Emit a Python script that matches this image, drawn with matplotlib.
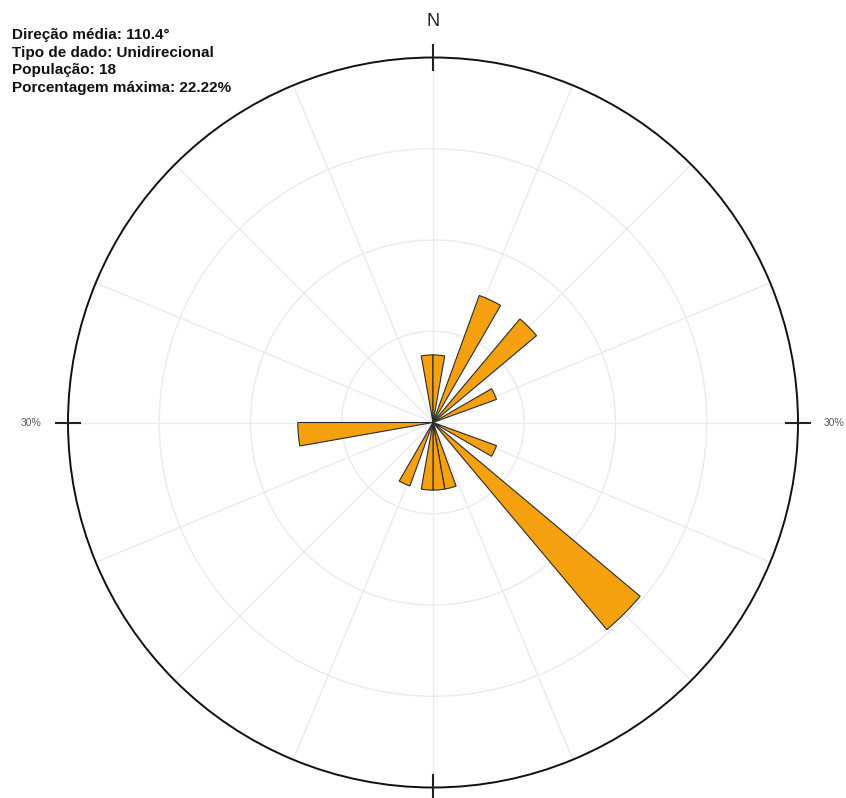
import matplotlib

matplotlib.use("Agg")
import matplotlib.pyplot as plt
import numpy as np

# Rose diagram: 10 degree bins, counts (population 18)
BIN_START_DEG = [350, 0, 20, 40, 60, 110, 130, 160, 170, 180, 200, 260]
BIN_COUNTS = [1, 1, 2, 2, 1, 1, 4, 1, 1, 1, 1, 2]
BIN_WIDTH_DEG = 10
POPULATION = 18
R_MAX = 30  # percent at the outer circle

INFO_LINES = [
    "Direção média: 110.4°",
    "Tipo de dado: Unidirecional",
    "População: 18",
    "Porcentagem máxima: 22.22%",
]

W_PX, H_PX = 846, 798
CX, CY, RAD = 433, 422.5, 365  # polar centre / radius in pixels

fig = plt.figure(figsize=(W_PX / 100, H_PX / 100), dpi=100)
ax = fig.add_axes(
    [(CX - RAD) / W_PX, (H_PX - CY - RAD) / H_PX, 2 * RAD / W_PX, 2 * RAD / H_PX],
    projection="polar",
)
ax.set_theta_zero_location("N")
ax.set_theta_direction(-1)
ax.set_ylim(0, R_MAX)

pct = np.array(BIN_COUNTS) / POPULATION * 100
ax.bar(
    np.deg2rad(BIN_START_DEG),
    pct,
    width=np.deg2rad(BIN_WIDTH_DEG),
    align="edge",
    color="#F5A00F",
    edgecolor="#2b2b2b",
    linewidth=0.8,
    zorder=3,
)

ax.set_rgrids([7.5, 15, 22.5], labels=[])
ax.set_thetagrids(np.arange(0, 360, 22.5), labels=[])
ax.grid(True, color="#ebebeb", lw=1.0)
ax.tick_params(length=0)
ax.spines["polar"].set_color("#111111")
ax.spines["polar"].set_linewidth(1.4)

# cardinal ticks crossing the outer circle
for a in (0, 90, 180, 270):
    ax.plot(
        [np.deg2rad(a)] * 2, [R_MAX - 1.0, R_MAX + 1.0],
        color="#222222", lw=1.5, clip_on=False, zorder=5,
    )

fig.text(CX / W_PX, 1 - 22 / H_PX, "N", ha="center", va="center",
         fontsize=13, family="Liberation Sans", color="#222222")
fig.text(834 / W_PX, 1 - 423.5 / H_PX, "30%", ha="center", va="center",
         fontsize=7.5, family="Liberation Sans", color="#555555")
fig.text(31 / W_PX, 1 - 423.5 / H_PX, "30%", ha="center", va="center",
         fontsize=7.5, family="Liberation Sans", color="#555555")

for i, line in enumerate(INFO_LINES):
    fig.text(12 / W_PX, 1 - (28 + i * 17.7) / H_PX, line, ha="left", va="top",
             fontsize=11, fontweight="bold", family="Liberation Sans", color="#111111")

fig.savefig("out.png", dpi=100)
